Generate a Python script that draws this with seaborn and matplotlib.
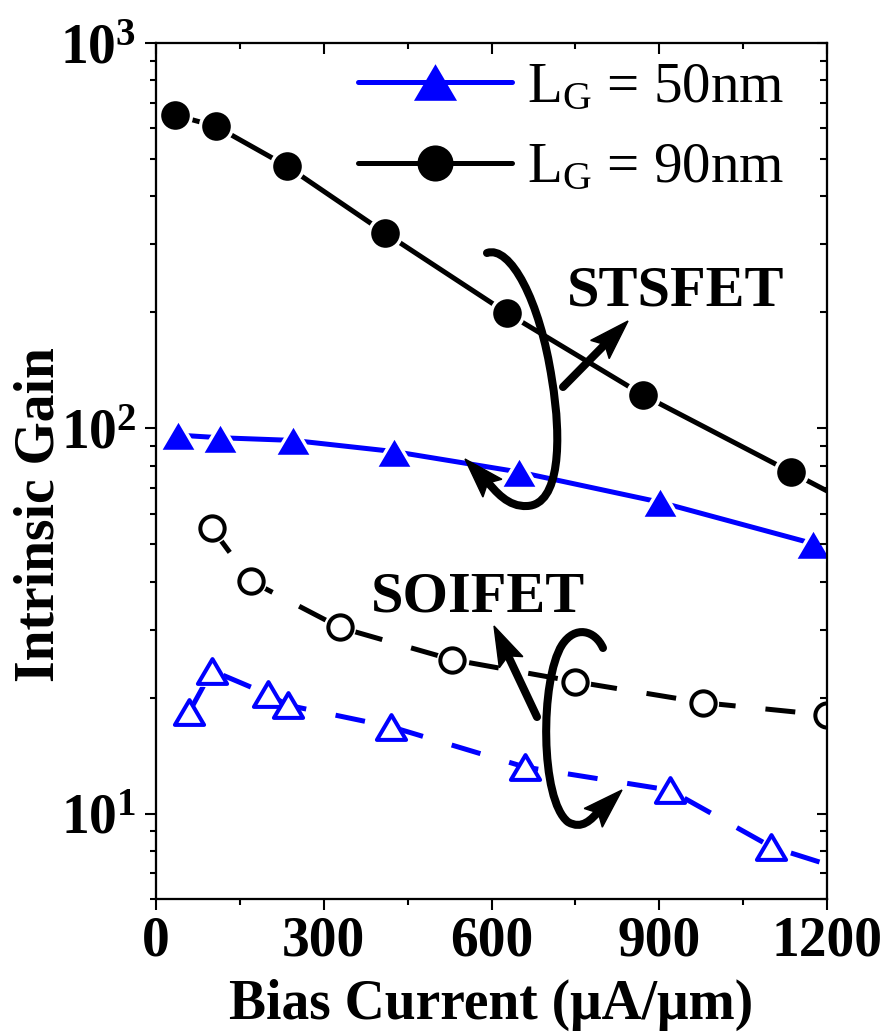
import numpy as np
import matplotlib
matplotlib.use("Agg")
import matplotlib.pyplot as plt
import seaborn as sns
from matplotlib.lines import Line2D
from matplotlib.markers import MarkerStyle
from matplotlib.patches import FancyArrowPatch, Polygon
from matplotlib.path import Path
from matplotlib.ticker import (MultipleLocator, LogLocator, FixedLocator,
                               FixedFormatter, NullFormatter)

# ---- data: intrinsic gain vs. bias current ----
sts50_current = [39, 114, 245, 426, 649, 901, 1175]
sts50_gain = [96, 94.5, 93, 87, 77, 64.3, 50.2]

sts90_current = [34, 107, 234, 410, 628, 871, 1136, 1250]
sts90_gain = [650, 608, 479, 321, 199, 122, 76.9, 63]

soi90_current = [100, 170, 329, 529, 749, 978, 1200]
soi90_gain = [55, 40.1, 30.4, 25.1, 22.0, 19.4, 18.0]

soi50_current = [59, 100, 200, 236, 420, 660, 919, 1100, 1250]
soi50_gain = [18.3, 23.5, 20.4, 19.1, 16.8, 13.2, 11.5, 8.2, 7.0]

legend_labels = [r"$\mathrm{L_G}$ = 50nm", r"$\mathrm{L_G}$ = 90nm"]
x_ticks = [0, 300, 600, 900, 1200]
y_ticks = [10, 100, 1000]
y_tick_labels = [r"$\mathbf{10^{1}}$", r"$\mathbf{10^{2}}$", r"$\mathbf{10^{3}}$"]

# ---- style ----
sns.set_style("ticks")
plt.rcParams["font.family"] = ["Liberation Serif", "DejaVu Serif"]
plt.rcParams["mathtext.fontset"] = "custom"
plt.rcParams["mathtext.rm"] = "Liberation Serif"
plt.rcParams["mathtext.bf"] = "Liberation Serif:bold"
plt.rcParams["mathtext.it"] = "Liberation Serif:italic"
for key in ("text.color", "axes.labelcolor", "axes.edgecolor",
            "xtick.color", "ytick.color"):
    plt.rcParams[key] = "black"

BLUE = "#0000FF"
BLACK = "#000000"
LW = 3.6
DASH = (0, (6, 6))

W, H = 888, 1034
fig = plt.figure(figsize=(W / 100, H / 100), dpi=100)
ax = fig.add_axes([156 / W, 135 / H, 671 / W, 856 / H])
ax.set_yscale("log")
ax.set_xlim(0, 1200)
ax.set_ylim(6, 1000)

tri = MarkerStyle(Path([(-1, -0.85), (1, -0.85), (0, 0.85), (-1, -0.85)],
                       [Path.MOVETO, Path.LINETO, Path.LINETO, Path.CLOSEPOLY]),
                  joinstyle="miter")


def filled_series(x, y, color, marker, ms):
    sns.lineplot(x=x, y=y, ax=ax, color=color, lw=LW, estimator=None,
                 zorder=2)
    sns.lineplot(x=x, y=y, ax=ax, color=color, linestyle="none",
                 estimator=None, marker=marker, markersize=ms,
                 markerfacecolor=color, markeredgecolor="white",
                 markeredgewidth=2.4, zorder=3)


def open_series(x, y, color, marker, ms):
    sns.lineplot(x=x, y=y, ax=ax, color=color, lw=LW, linestyle=DASH,
                 estimator=None, zorder=2)
    sns.lineplot(x=x, y=y, ax=ax, color="white", linestyle="none",
                 estimator=None, marker=marker, markersize=ms + 5,
                 markerfacecolor="white", markeredgecolor="white",
                 markeredgewidth=0, zorder=3)
    sns.lineplot(x=x, y=y, ax=ax, color=color, linestyle="none",
                 estimator=None, marker=marker, markersize=ms,
                 markerfacecolor="white", markeredgecolor=color,
                 markeredgewidth=2.9, zorder=4)


filled_series(sts50_current, sts50_gain, BLUE, tri, 27)
filled_series(sts90_current, sts90_gain, BLACK, "o", 23)
open_series(soi90_current, soi90_gain, BLACK, "o", 17.5)
open_series(soi50_current, soi50_gain, BLUE, tri, 21)

# ---- axes, ticks ----
ax.set_xlim(0, 1200)
ax.set_ylim(6, 1000)
ax.xaxis.set_major_locator(FixedLocator(x_ticks))
ax.xaxis.set_minor_locator(MultipleLocator(150))
ax.yaxis.set_major_locator(FixedLocator(y_ticks))
ax.yaxis.set_major_formatter(FixedFormatter(y_tick_labels))
ax.yaxis.set_minor_locator(LogLocator(base=10, subs=range(2, 10)))
ax.yaxis.set_minor_formatter(NullFormatter())
ax.tick_params(which="both", direction="out", width=1.5, labelsize=40)
ax.tick_params(which="major", length=8)
ax.tick_params(which="minor", length=4)
ax.tick_params(axis="x", pad=4)
ax.tick_params(axis="y", pad=6)
for lab in ax.get_xticklabels() + ax.get_yticklabels():
    lab.set_fontweight("bold")
for sp in ax.spines.values():
    sp.set_linewidth(1.5)

ax.set_xlabel("Bias Current (\u03bcA/\u03bcm)", fontsize=40, fontweight="bold",
              labelpad=8)
ax.set_ylabel("Intrinsic Gain", fontsize=40, fontweight="bold")
ax.yaxis.set_label_coords(-0.135, 0.449)

# mirrored inward ticks on the top and right edges
axr = ax.twinx()
axr.set_yscale("log")
axr.set_ylim(6, 1000)
axr.yaxis.set_major_locator(FixedLocator(y_ticks))
axr.yaxis.set_minor_locator(LogLocator(base=10, subs=range(2, 10)))
axr.yaxis.set_major_formatter(NullFormatter())
axr.yaxis.set_minor_formatter(NullFormatter())
axr.tick_params(axis="y", which="both", direction="in", width=1.5,
                labelright=False)
axr.tick_params(axis="y", which="major", length=7)
axr.tick_params(axis="y", which="minor", length=5)

axt = ax.twiny()
axt.set_xlim(0, 1200)
axt.xaxis.set_major_locator(FixedLocator(x_ticks))
axt.xaxis.set_minor_locator(MultipleLocator(150))
axt.xaxis.set_major_formatter(NullFormatter())
axt.tick_params(axis="x", which="both", direction="in", width=1.5,
                labeltop=False)
axt.tick_params(axis="x", which="major", length=8)
axt.tick_params(axis="x", which="minor", length=4)
for a in (axr, axt):
    for sp in a.spines.values():
        sp.set_linewidth(1.5)

# ---- legend ----
handles = [
    Line2D([], [], color=BLUE, lw=LW, marker=tri, markersize=31,
           markeredgecolor=BLUE, markeredgewidth=0),
    Line2D([], [], color=BLACK, lw=LW, marker="o", markersize=26,
           markeredgecolor=BLACK, markeredgewidth=0),
]
ax.legend(handles, legend_labels, loc="upper left",
          bbox_to_anchor=((358 - 156) / 671, (899 - 62) / 856),
          frameon=False, fontsize=41, handlelength=2.7, handletextpad=0.26,
          labelspacing=0.5, borderpad=0, borderaxespad=0)


# ---- annotations (positions in figure pixels, measured from top-left) ----
def at(px, py):
    return ax.transAxes.inverted().transform((px, H - py))


SHAFT_LW = 5.8
HEAD_LEN, HEAD_HALF, HEAD_NOTCH, SHAFT_INSET = 40, 13, 7, 24


def arrow_head(direction_from, tip):
    """Notched arrow head with its point at tip, aligned with direction_from->tip."""
    t = np.asarray(tip, float)
    u = t - np.asarray(direction_from, float)
    u /= np.hypot(*u)
    p = np.array([-u[1], u[0]])
    pts = [t,
           t - HEAD_LEN * u + HEAD_HALF * p,
           t - (HEAD_LEN - HEAD_NOTCH) * u,
           t - HEAD_LEN * u - HEAD_HALF * p]
    ax.add_patch(Polygon([at(*q) for q in pts], closed=True,
                         transform=ax.transAxes, facecolor=BLACK,
                         edgecolor=BLACK, lw=1.0, joinstyle="miter",
                         zorder=6, clip_on=False))
    return t - SHAFT_INSET * u


def curved_arrow(points, tip):
    verts = [at(*p) for p in points]
    codes = [Path.MOVETO] + [Path.CURVE4] * (len(verts) - 1)
    shaft = FancyArrowPatch(path=Path(verts, codes), transform=ax.transAxes,
                            arrowstyle="-", mutation_scale=10, lw=SHAFT_LW,
                            color=BLACK, capstyle="round", joinstyle="round",
                            zorder=6, clip_on=False)
    ax.add_patch(shaft)
    arrow_head(points[-2], tip)


def straight_arrow(tail, tip):
    end = arrow_head(tail, tip)
    shaft = FancyArrowPatch(at(*tail), at(*end), transform=ax.transAxes,
                            arrowstyle="-", mutation_scale=10, lw=SHAFT_LW,
                            color=BLACK, shrinkA=0, shrinkB=0,
                            capstyle="round", zorder=6, clip_on=False)
    ax.add_patch(shaft)


curved_arrow([(487, 253),
              (510, 245), (540, 300), (552, 380),
              (562, 440), (560, 505), (527, 506),
              (508, 507), (496, 492), (485, 479)], tip=(465, 459))
straight_arrow((563, 387), (628, 321))

curved_arrow([(603, 648),
              (595, 630), (575, 625), (562, 645),
              (540, 680), (540, 800), (568, 822),
              (582, 830), (591, 820), (600, 810)], tip=(622, 790))
straight_arrow((537, 717), (494, 626))

ax.text(*at(676, 305), "STSFET", transform=ax.transAxes, fontsize=42,
        fontweight="bold", ha="center", va="baseline", zorder=7)
ax.text(*at(478, 611), "SOIFET", transform=ax.transAxes, fontsize=42,
        fontweight="bold", ha="center", va="baseline", zorder=7)

fig.savefig("out.png", dpi=100)
